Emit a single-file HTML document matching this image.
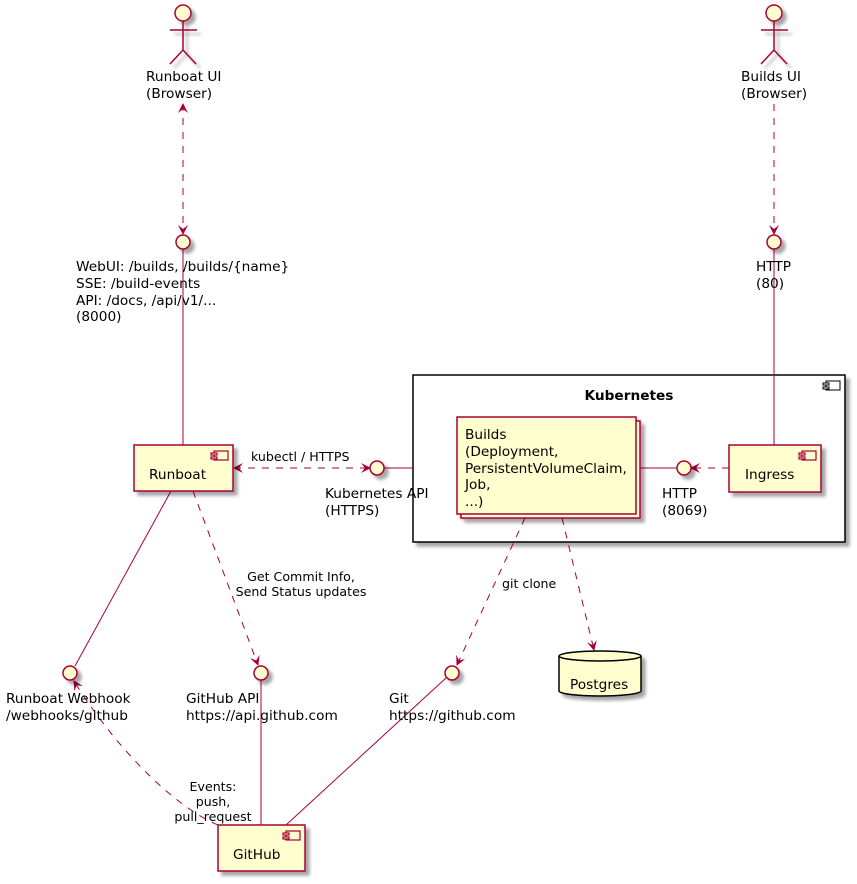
<!DOCTYPE html>
<html><head><meta charset="utf-8"><style>
html,body{margin:0;padding:0;background:#fff;}
svg{display:block;}
text{font-family:"DejaVu Sans","Liberation Sans",sans-serif;font-size:13.7px;fill:#000;}
.s{font-size:12.6px;}
</style></head><body>
<svg width="857" height="884" viewBox="0 0 857 884" xmlns="http://www.w3.org/2000/svg">
<defs>
<filter id="sh" x="-20%" y="-20%" width="150%" height="150%"><feGaussianBlur in="SourceAlpha" stdDeviation="1.6"/><feOffset dx="4" dy="4"/><feComponentTransfer><feFuncA type="linear" slope="0.35"/></feComponentTransfer><feMerge><feMergeNode/><feMergeNode in="SourceGraphic"/></feMerge></filter>
<marker id="ah" viewBox="0 0 10 10" refX="9" refY="5" markerWidth="10" markerHeight="10" orient="auto-start-reverse" markerUnits="userSpaceOnUse"><path d="M0,0 L10,5 L0,10 L4,5 Z" fill="#A80036"/></marker>
</defs>
<g fill="#FEFECE" stroke="#A80036" stroke-width="1.5">
<g filter="url(#sh)">
<circle cx="183" cy="13" r="8"/><path d="M183 21 V50 M170 30 H197 M183 50 L170 64 M183 50 L196 64" fill="none"/>
<circle cx="774" cy="13" r="8"/><path d="M774 21 V50 M761 30 H788 M774 50 L761 64 M774 50 L787 64" fill="none"/>
</g>
<rect x="413" y="375" width="432" height="167" fill="#fff" stroke="#000" filter="url(#sh)"/>
<rect x="826" y="381" width="14" height="9" fill="#fff" stroke="#000" stroke-width="1"/>
<rect x="823" y="383" width="6" height="2" fill="#fff" stroke="#000" stroke-width="1"/>
<rect x="823" y="387" width="6" height="2" fill="#fff" stroke="#000" stroke-width="1"/>
</g>
<g fill="none" stroke="#A80036" stroke-width="1">
<line x1="183" y1="249" x2="183" y2="445"/>
<line x1="774" y1="249" x2="774" y2="445"/>
<line x1="384" y1="468" x2="413" y2="468"/>
<line x1="640" y1="468" x2="677" y2="468"/>
<line x1="171" y1="491" x2="75" y2="666"/>
<line x1="261" y1="680" x2="261" y2="825"/>
<line x1="446" y1="678" x2="286" y2="825"/>
<g stroke-dasharray="7,7">
<line x1="183" y1="104" x2="183" y2="234" marker-start="url(#ah)" marker-end="url(#ah)"/>
<line x1="774" y1="104" x2="774" y2="234" marker-end="url(#ah)"/>
<line x1="234" y1="468" x2="370" y2="468" marker-start="url(#ah)" marker-end="url(#ah)"/>
<line x1="729" y1="468" x2="691" y2="468" marker-end="url(#ah)"/>
<line x1="193" y1="491" x2="258" y2="665" marker-end="url(#ah)"/>
<line x1="525" y1="518" x2="457" y2="665" marker-end="url(#ah)"/>
<line x1="562" y1="518" x2="594" y2="650" marker-end="url(#ah)"/>
<path d="M218 825 C170 805 110 740 74 681" marker-end="url(#ah)"/>
</g>
</g>
<g fill="#FEFECE" stroke="#A80036" stroke-width="1.5">
<g filter="url(#sh)">
<circle cx="183" cy="242" r="7"/>
<circle cx="774" cy="242" r="7"/>
<circle cx="377" cy="468" r="7"/>
<circle cx="684" cy="468" r="7"/>
<circle cx="70" cy="673" r="7"/>
<circle cx="261" cy="673" r="7"/>
<circle cx="452" cy="673" r="7"/>
<rect x="134" y="445" width="99" height="46"/>
<rect x="729" y="445" width="92" height="47"/>
<rect x="218" y="825" width="87" height="46"/>
<rect x="461" y="421" width="179" height="97"/>
<rect x="457" y="417" width="179" height="97"/>
<path d="M559 656 A41 5 0 0 1 641 656 V691 A41 5 0 0 1 559 691 Z" stroke="#000"/>
</g>
<path d="M559 656 A41 5 0 0 0 641 656" fill="none" stroke="#000"/>
<g stroke-width="1.2">
<rect x="214" y="451" width="14" height="9"/><rect x="211" y="453" width="6" height="2"/><rect x="211" y="457" width="6" height="2"/>
<rect x="802" y="451" width="14" height="9"/><rect x="799" y="453" width="6" height="2"/><rect x="799" y="457" width="6" height="2"/>
<rect x="286" y="831" width="14" height="9"/><rect x="283" y="833" width="6" height="2"/><rect x="283" y="837" width="6" height="2"/>
</g>
</g>
<text x="146" y="81">Runboat UI</text><text x="146" y="98">(Browser)</text>
<text x="741" y="81">Builds UI</text><text x="741" y="98">(Browser)</text>
<text x="76" y="271">WebUI: /builds, /builds/{name}</text>
<text x="76" y="288">SSE: /build-events</text>
<text x="76" y="305">API: /docs, /api/v1/...</text>
<text x="76" y="321">(8000)</text>
<text x="756" y="271">HTTP</text><text x="756" y="288">(80)</text>
<text x="629" y="400" text-anchor="middle" font-weight="bold">Kubernetes</text>
<text x="149" y="479">Runboat</text>
<text x="745" y="479">Ingress</text>
<text x="233" y="859">GitHub</text>
<text class="s" x="251" y="461">kubectl / HTTPS</text>
<text x="325" y="498">Kubernetes API</text><text x="325" y="515">(HTTPS)</text>
<text x="465" y="439">Builds</text>
<text x="465" y="456">(Deployment,</text>
<text x="465" y="473">PersistentVolumeClaim,</text>
<text x="465" y="489">Job,</text>
<text x="465" y="506">...)</text>
<text x="662" y="498">HTTP</text><text x="662" y="515">(8069)</text>
<text class="s" x="301" y="581" text-anchor="middle">Get Commit Info,</text>
<text class="s" x="301" y="596" text-anchor="middle">Send Status updates</text>
<text class="s" x="502" y="588">git clone</text>
<text x="570" y="689">Postgres</text>
<text x="6" y="703">Runboat Webhook</text><text x="6" y="720">/webhooks/github</text>
<text x="186" y="703">GitHub API</text><text x="186" y="720">https://api.github.com</text>
<text x="389" y="703">Git</text><text x="389" y="720">https://github.com</text>
<text class="s" x="213" y="791" text-anchor="middle">Events:</text>
<text class="s" x="213" y="806" text-anchor="middle">push,</text>
<text class="s" x="213" y="821" text-anchor="middle">pull_request</text>
</svg>
</body></html>
